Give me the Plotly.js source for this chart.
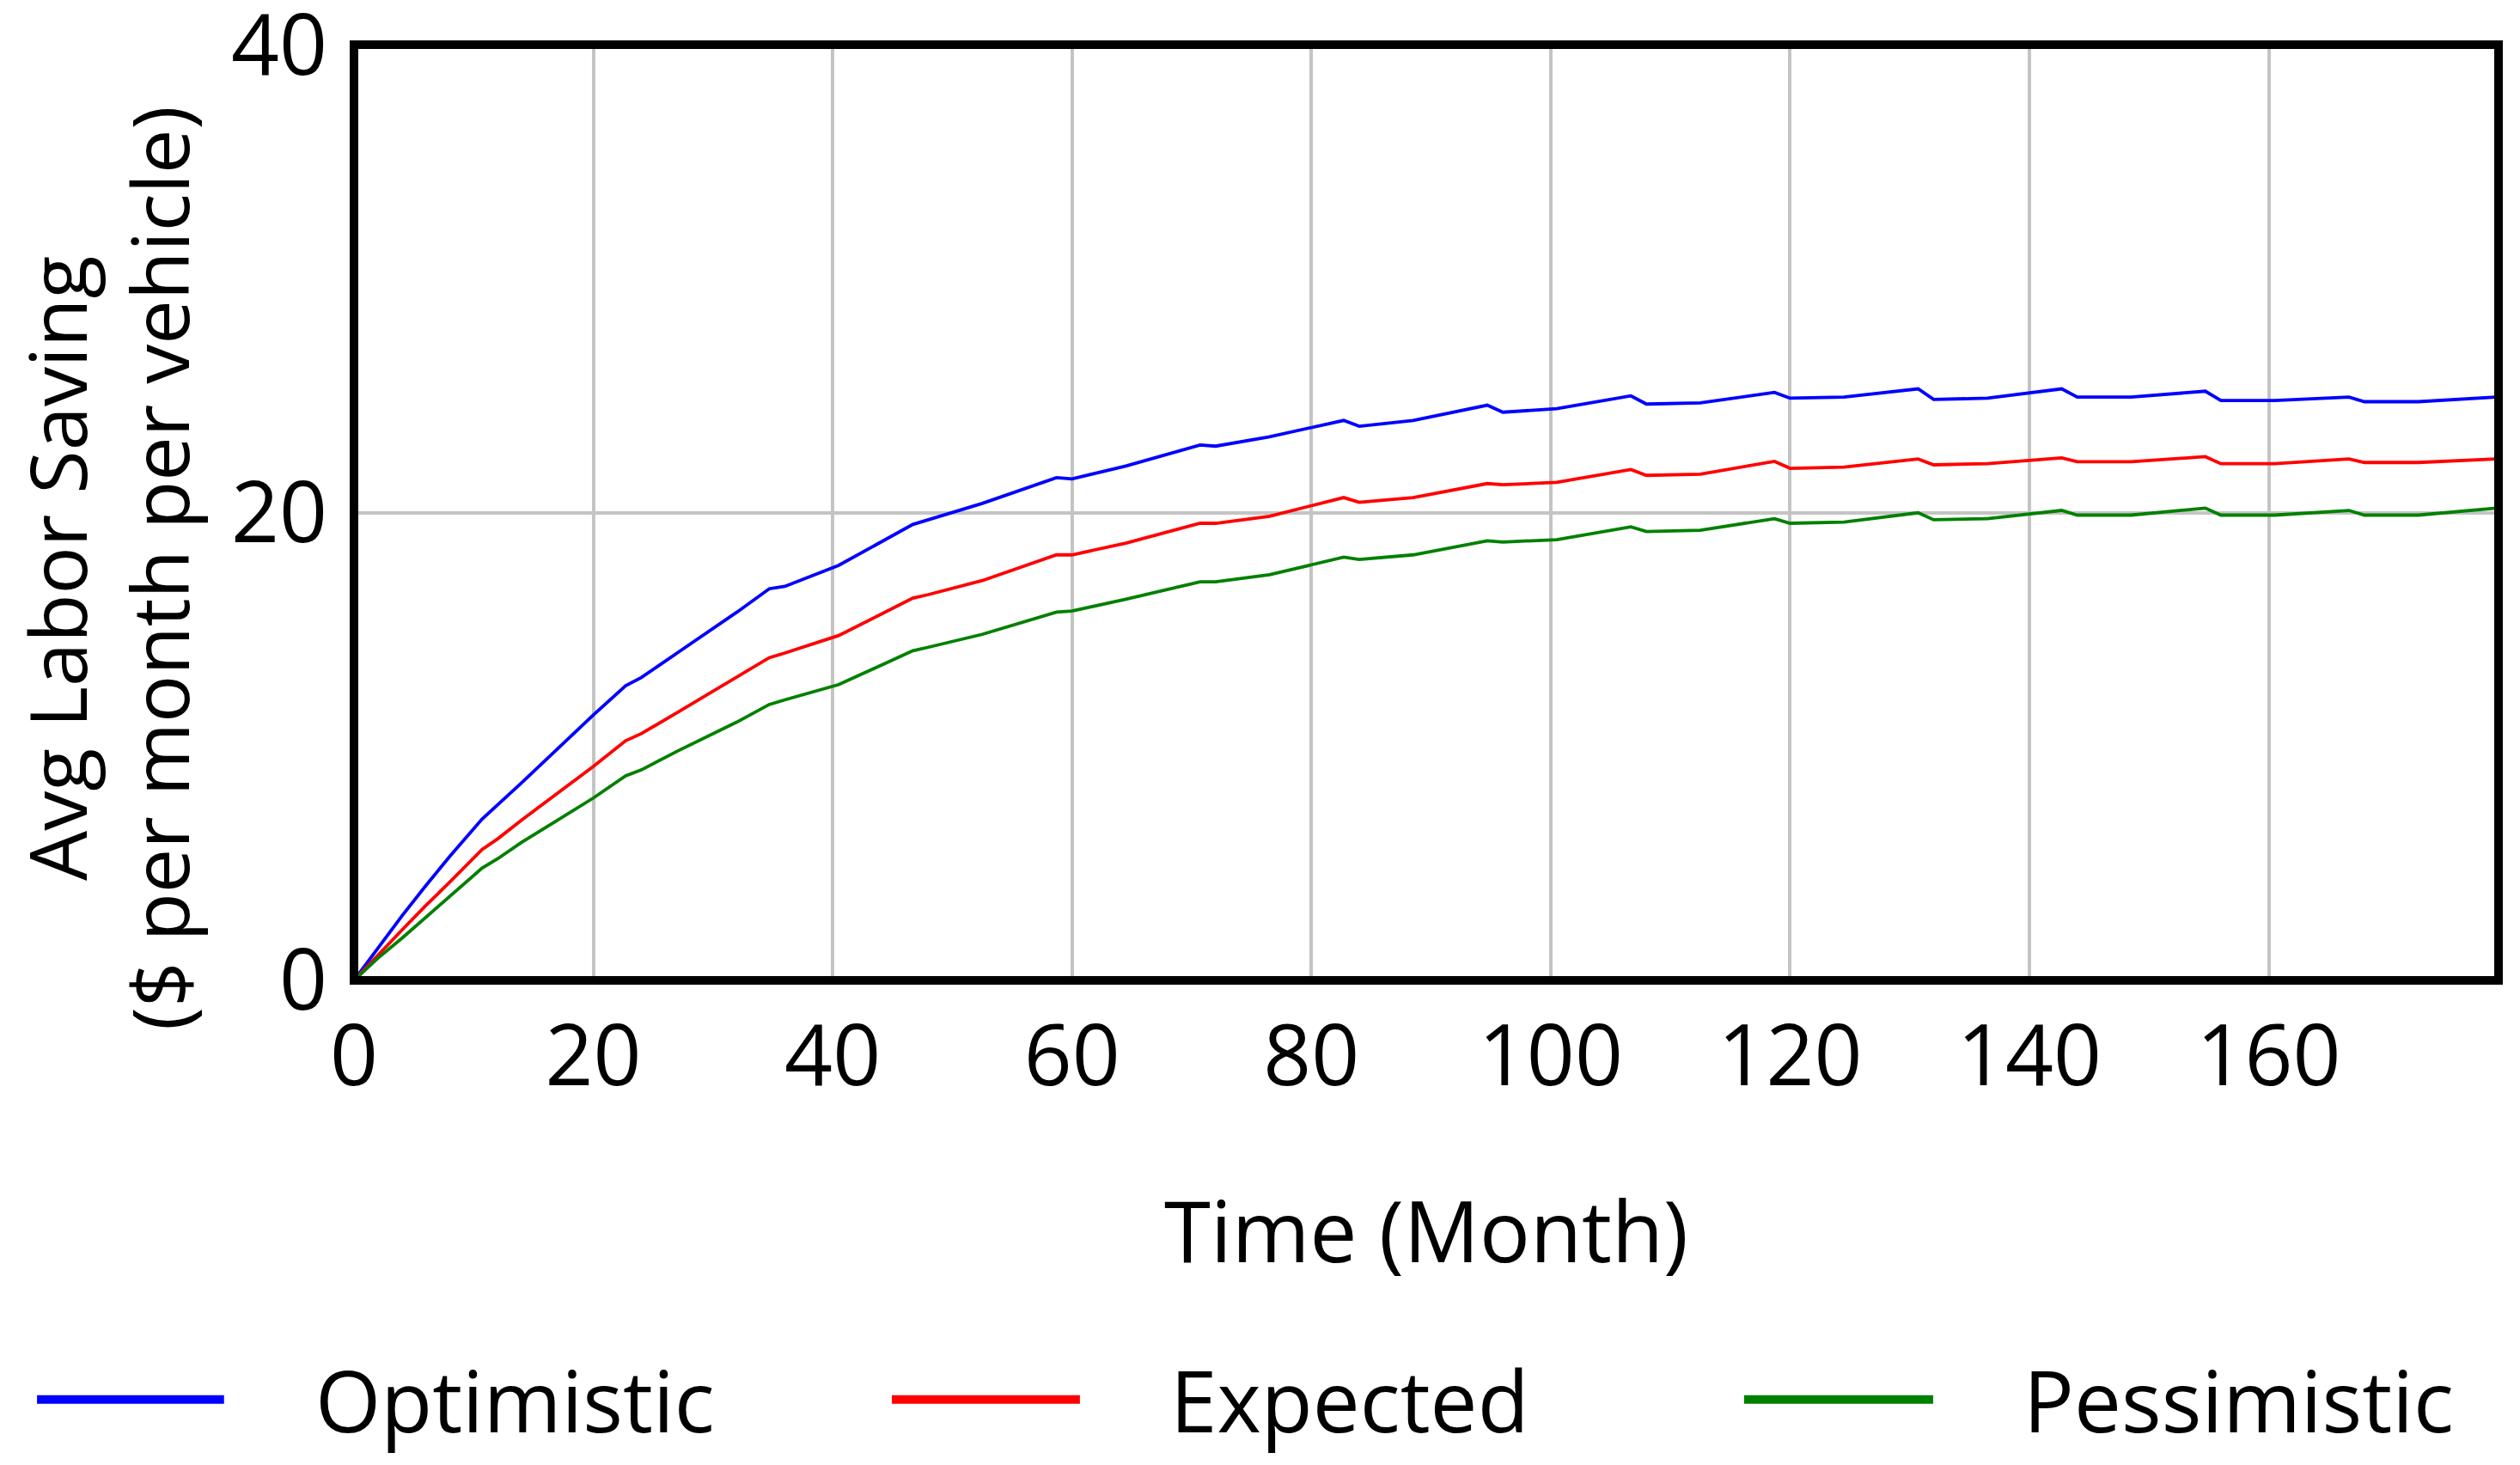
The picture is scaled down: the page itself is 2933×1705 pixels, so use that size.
<!DOCTYPE html>
<html>
<head>
<meta charset="utf-8">
<script src="https://cdn.plot.ly/plotly-3.0.1.min.js"></script>
<style>
  html, body { margin: 0; padding: 0; background: #ffffff; }
  #chart { width: 2933px; height: 1705px; }
</style>
</head>
<body>
<div id="chart"></div>
<script>
// ---- data ----
const months = [0, 2, 4, 6, 8, 10.7, 12, 14, 17, 20, 22.7, 24, 27, 30, 32, 34.7, 36,
  40.5, 46.7, 48, 52.5, 58.7, 60, 64.5, 70.7, 72, 76.5, 82.7, 84, 88.5, 94.7, 96,
  100.5, 106.7, 108, 112.5, 118.7, 120, 124.5, 130.7, 132, 136.5, 142.7, 144,
  148.5, 154.7, 156, 160.5, 166.7, 168, 172.5, 179];

const optimistic = [0, 1.4, 2.75, 4.05, 5.3, 6.9, 7.5, 8.45, 9.9, 11.35, 12.6, 12.95, 14.0, 15.05, 15.75, 16.75, 16.85,
  17.75, 19.5, 19.7, 20.4, 21.5, 21.45, 22.0, 22.9, 22.85, 23.25, 23.95, 23.7, 23.95, 24.6, 24.3,
  24.45, 25.0, 24.65, 24.7, 25.15, 24.9, 24.95, 25.3, 24.85, 24.9, 25.3, 24.95,
  24.95, 25.2, 24.8, 24.8, 24.95, 24.75, 24.75, 24.95];

const expected = [0, 1.1, 2.15, 3.2, 4.2, 5.6, 6.05, 6.85, 8.0, 9.15, 10.25, 10.55, 11.45, 12.35, 12.95, 13.8, 14.0,
  14.75, 16.35, 16.5, 17.1, 18.2, 18.2, 18.7, 19.55, 19.55, 19.85, 20.65, 20.45, 20.65, 21.25, 21.2,
  21.3, 21.85, 21.6, 21.65, 22.2, 21.9, 21.95, 22.3, 22.05, 22.1, 22.35, 22.18,
  22.18, 22.4, 22.1, 22.1, 22.3, 22.15, 22.15, 22.3];

const pessimistic = [0, 0.95, 1.8, 2.7, 3.6, 4.8, 5.2, 5.9, 6.85, 7.8, 8.75, 9.0, 9.8, 10.55, 11.05, 11.8, 12.0,
  12.65, 14.1, 14.25, 14.8, 15.75, 15.8, 16.3, 17.05, 17.05, 17.35, 18.1, 18.0, 18.2, 18.8, 18.75,
  18.85, 19.4, 19.2, 19.25, 19.75, 19.55, 19.6, 20.0, 19.7, 19.75, 20.1, 19.9,
  19.9, 20.2, 19.9, 19.9, 20.1, 19.9, 19.9, 20.2];

const seriesNames = ['Optimistic', 'Expected', 'Pessimistic'];
const seriesColors = ['#0000ff', '#ff0000', '#008000'];
const seriesValues = [optimistic, expected, pessimistic];

const xTicks = [0, 20, 40, 60, 80, 100, 120, 140, 160];
const yTicks = [0, 20, 40];

const xTitle = 'Time (Month)';
const yTitle = 'Avg Labor Saving<br>($ per month per vehicle)';

// ---- build chart ----
const FONT = 'Open Sans, Noto Sans, DejaVu Sans, sans-serif';

const traces = seriesValues.map((vals, i) => ({
  type: 'scatter',
  mode: 'lines',
  x: months,
  y: vals,
  name: seriesNames[i],
  line: { color: seriesColors[i], width: 3.8 },
  showlegend: false,
  hoverinfo: 'x+y+name'
}));

// custom legend (long swatches like the reference)
const legendSwatch = [[-0.1478, -0.0606], [0.2508, 0.3385], [0.6482, 0.7364]];
const legendText = [-0.0188, 0.3798, 0.7776];
const legendY = -0.448;

const shapes = [
  { type: 'rect', xref: 'paper', yref: 'paper', x0: 0, x1: 1, y0: 0, y1: 1,
    line: { color: '#000000', width: 10 }, fillcolor: 'rgba(0,0,0,0)', layer: 'above' }
];
const annotations = [
  { text: xTitle, xref: 'paper', yref: 'paper', x: 0.5, y: -0.266, xanchor: 'center', yanchor: 'middle',
    showarrow: false, font: { family: FONT, size: 98, color: '#000000' } },
  { text: yTitle, xref: 'paper', yref: 'paper', x: -0.1148, y: 0.441, xanchor: 'center', yanchor: 'middle',
    textangle: -90, showarrow: false, font: { family: FONT, size: 92, color: '#000000' } }
];
seriesNames.forEach((nm, i) => {
  shapes.push({ type: 'line', xref: 'paper', yref: 'paper',
    x0: legendSwatch[i][0], x1: legendSwatch[i][1], y0: legendY, y1: legendY,
    line: { color: seriesColors[i], width: 10 } });
  annotations.push({ text: nm, xref: 'paper', yref: 'paper', x: legendText[i], y: legendY,
    xanchor: 'left', yanchor: 'middle', showarrow: false,
    font: { family: FONT, size: 98, color: '#000000' } });
});

const layout = {
  width: 2933,
  height: 1705,
  margin: { l: 412, r: 25, t: 52, b: 564, pad: 0 },
  paper_bgcolor: '#ffffff',
  plot_bgcolor: '#ffffff',
  font: { family: FONT, size: 98, color: '#000000' },
  showlegend: false,
  xaxis: {
    range: [0, 179.2],
    tickvals: xTicks,
    ticktext: xTicks.map(String),
    showgrid: true,
    gridcolor: '#c4c4c4',
    gridwidth: 4,
    zeroline: false,
    showline: false,
    ticks: '',
    ticklabelstandoff: 23,
    tickfont: { family: FONT, size: 98, color: '#000000' },
    fixedrange: true
  },
  yaxis: {
    range: [0, 40.02],
    tickvals: yTicks,
    ticktext: yTicks.map(String),
    showgrid: true,
    gridcolor: '#c4c4c4',
    gridwidth: 4,
    zeroline: false,
    showline: false,
    ticks: '',
    ticklabelstandoff: 30,
    ticklabeloverflow: 'allow',
    tickfont: { family: FONT, size: 98, color: '#000000' },
    fixedrange: true
  },
  shapes: shapes,
  annotations: annotations
};

Plotly.newPlot('chart', traces, layout, { displayModeBar: false, staticPlot: true });
</script>
</body>
</html>
